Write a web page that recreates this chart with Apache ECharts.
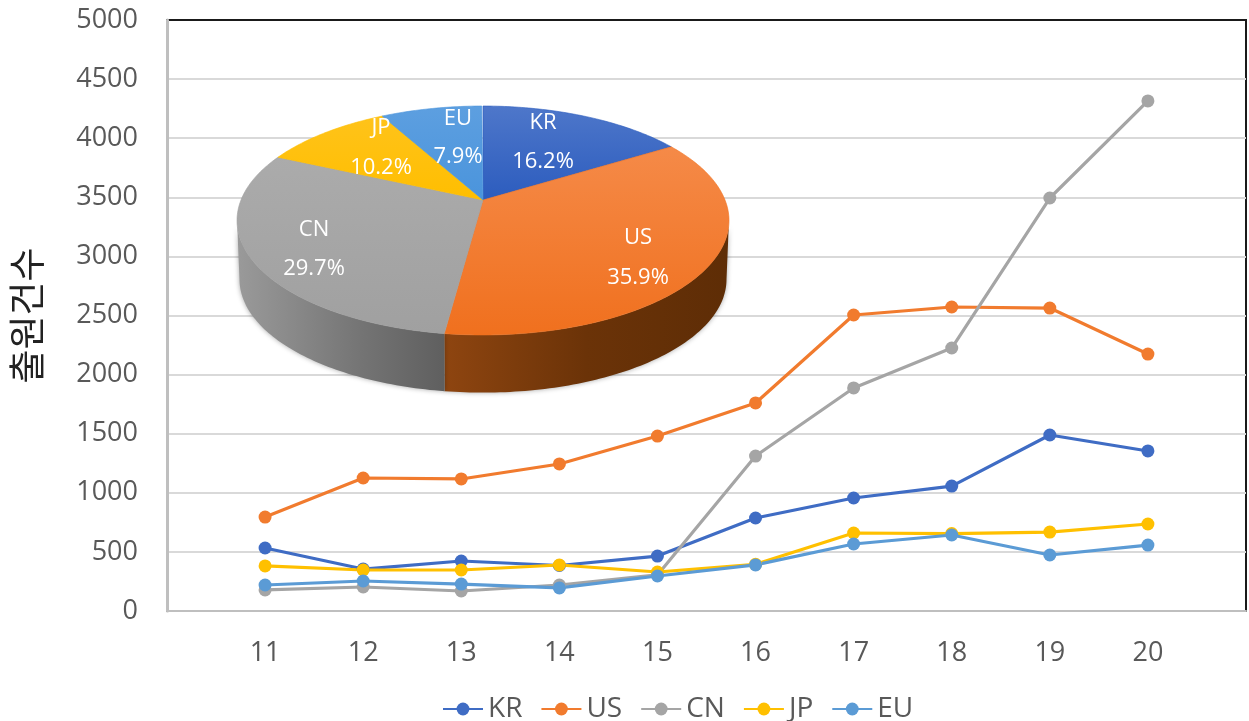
<!DOCTYPE html>
<html>
<head>
<meta charset="utf-8">
<style>
html, body { margin: 0; padding: 0; background: #fff; }
#ct1 { width: 1249px; height: 721px; }
</style>
<script src="https://cdn.jsdelivr.net/npm/echarts@6/dist/echarts.min.js"></script>
</head>
<body>
<div id="ct1"></div>
<script>
var years = [11, 12, 13, 14, 15, 16, 17, 18, 19, 20];
var dataKR = [533, 355, 423, 385, 465, 787, 956, 1057, 1489, 1354];
var dataUS = [795, 1125, 1117, 1244, 1480, 1760, 2504, 2572, 2563, 2174];
var dataCN = [178, 203, 169, 220, 305, 1311, 1887, 2225, 3494, 4315];
var dataJP = [381, 347, 347, 389, 330, 395, 660, 655, 668, 736];
var dataEU = [220, 254, 228, 195, 296, 390, 567, 643, 474, 558];

var pieNames = ['KR', 'US', 'CN', 'JP', 'EU'];
var pieShares = [16.2, 35.9, 29.7, 10.2, 7.9];

var colors = ['#3f6cc4', '#f17b2e', '#a5a5a5', '#ffc000', '#5b9bd5'];
var fontName = '"Open Sans", "Noto Sans", sans-serif';

// top face colours, and side wall colours for the two slices that show one
var topFill = [
	['#4e77ca', '#2c5cbe'],
	['#f58a48', '#f0701e'],
	['#ababab', '#a0a0a0'],
	['#ffc31a', '#ffbe00'],
	['#5d9fe0', '#4a94dc']
];
var sideFill = {
	1: [[0, '#8e4510'], [0.5, '#6b3308'], [1, '#5e2d06']],
	2: [[0, '#9a9a9a'], [0.6, '#747474'], [1, '#5f5f5f']]
};
var labelPos = [[543, 123, 162], [638, 238, 278], [314, 230, 269], [381, 128, 168], [458, 119, 157]];

// tilted pie: circle angle (deg, clockwise from top) to screen point
var P = { x: 483, y: 200, a: 110.8, b: 242, k: -0.179, depth: 59, shrink: 0.99 };
function piePoint(deg, low) {
	var t = deg * Math.PI / 180;
	var u = Math.sin(t), v = -Math.cos(t);
	var w = 1 + P.k * v;
	var s = low ? P.shrink : 1;
	return [P.x + P.b * s * u / w, P.y + P.a * s * v / w + (low ? P.depth : 0)];
}
function arcPoints(from, to, low) {
	var pts = [];
	var n = Math.max(2, Math.ceil(Math.abs(to - from)));
	for (var i = 0; i <= n; i++) {
		pts.push(piePoint(from + (to - from) * i / n, low));
	}
	return pts;
}
function sliceStart(i) {
	var sum = 0;
	for (var j = 0; j < i; j++) {
		sum += pieShares[j];
	}
	return sum * 3.6;
}

function renderSide(params) {
	var i = params.dataIndex;
	if (!sideFill[i]) {
		return { type: 'group', children: [] };
	}
	var from = Math.max(sliceStart(i), 100.3);
	var to = Math.min(sliceStart(i) + pieShares[i] * 3.6, 259.7);
	var pts = arcPoints(from, to, false).concat(arcPoints(to, from, true));
	var xs = pts.map(function(p) { return p[0]; });
	var x0 = Math.min.apply(null, xs), x1 = Math.max.apply(null, xs);
	var stops = sideFill[i].map(function(s) { return { offset: s[0], color: s[1] }; });
	return {
		type: 'polygon',
		shape: { points: pts },
		style: {
			fill: {
				type: 'linear', global: true, x: x0, y: 0, x2: x1, y2: 0,
				colorStops: stops
			},
			shadowColor: 'rgba(0,0,0,0.35)',
			shadowBlur: 5
		}
	};
}
function renderTop(params) {
	var i = params.dataIndex;
	var start = sliceStart(i);
	var pts = [[P.x, P.y]].concat(arcPoints(start, start + pieShares[i] * 3.6, false));
	var lab = labelPos[i];
	function label(text, y) {
		return {
			type: 'text',
			z2: 10,
			style: {
				text: text, x: lab[0], y: y, fill: '#fff', fontSize: 22, fontFamily: fontName,
				align: 'center', verticalAlign: 'middle'
			}
		};
	}
	return {
		type: 'group',
		children: [{
			type: 'polygon',
			shape: { points: pts },
			style: {
				fill: {
					type: 'linear', x: 0, y: 0, x2: 0, y2: 1,
					colorStops: [{ offset: 0, color: topFill[i][0] }, { offset: 1, color: topFill[i][1] }]
				},
				stroke: topFill[i][1],
				lineWidth: 0.6
			}
		}, label(pieNames[i], lab[1]), label(pieShares[i].toFixed(1) + '%', lab[2])]
	};
}

function lineSeries(name, values, color) {
	return {
		name: name,
		type: 'line',
		data: values.map(function(v, i) { return [years[i], v]; }),
		symbol: 'circle',
		symbolSize: 13,
		lineStyle: { color: color, width: 3.2 },
		itemStyle: { color: color },
		z: 3
	};
}

var option1 = {
	backgroundColor: '#fff',
	animation: false,
	textStyle: { fontFamily: fontName },
	grid: { left: 167, top: 20, width: 1079, height: 591, show: true, borderColor: '#1a1a1a', borderWidth: 2, backgroundColor: '#fff' },
	legend: {
		left: 437,
		top: 690,
		itemWidth: 40,
		itemHeight: 16,
		itemGap: 18,
		data: pieNames,
		textStyle: { fontSize: 28, color: '#595959', fontFamily: fontName }
	},
	xAxis: {
		type: 'value',
		min: 10,
		max: 21,
		interval: 1,
		axisLine: { lineStyle: { color: '#bfbfbf', width: 2 } },
		axisTick: { show: false },
		splitLine: { show: false },
		axisLabel: {
			fontSize: 27,
			color: '#595959',
			margin: 29,
			formatter: function(v) { return years.indexOf(v) < 0 ? '' : String(v); }
		}
	},
	yAxis: {
		type: 'value',
		min: 0,
		max: 5000,
		interval: 500,
		name: '출원건수',
		nameLocation: 'center',
		nameRotate: 90,
		nameGap: 122,
		nameTextStyle: { fontSize: 37, color: '#222', fontFamily: '"Noto Sans CJK KR", sans-serif' },
		axisLine: { show: true, lineStyle: { color: '#bfbfbf', width: 3 } },
		axisTick: { show: false },
		splitLine: { showMinLine: false, showMaxLine: false, lineStyle: { color: '#d9d9d9', width: 2 } },
		axisLabel: {
			fontSize: 27,
			color: '#595959',
			margin: 29,
			formatter: function(v) { return String(v); }
		}
	},
	series: [
		lineSeries('KR', dataKR, colors[0]),
		lineSeries('US', dataUS, colors[1]),
		lineSeries('CN', dataCN, colors[2]),
		lineSeries('JP', dataJP, colors[3]),
		lineSeries('EU', dataEU, colors[4]),
		{
			type: 'custom',
			name: 'side',
			coordinateSystem: 'none',
			renderItem: renderSide,
			data: pieShares,
			silent: true,
			z: 4
		},
		{
			type: 'custom',
			name: 'top',
			coordinateSystem: 'none',
			renderItem: renderTop,
			data: pieShares,
			silent: true,
			z: 5
		}
	]
};

var myChart1 = echarts.init(document.getElementById('ct1'), null, { renderer: 'canvas' });
myChart1.setOption(option1, true);
</script>
</body>
</html>
